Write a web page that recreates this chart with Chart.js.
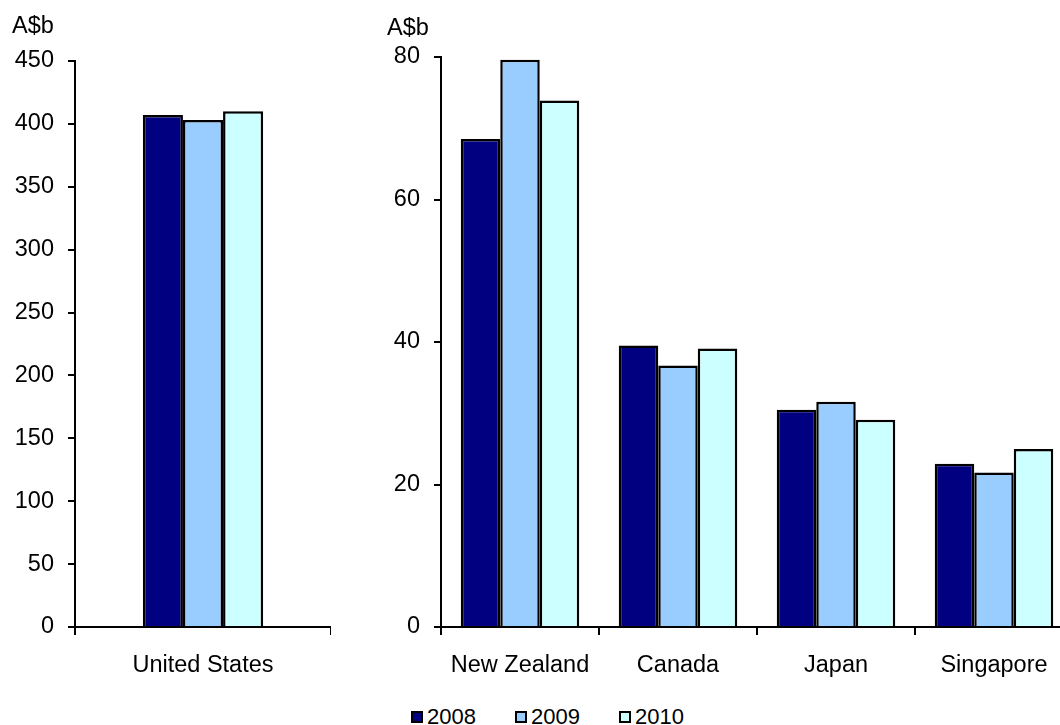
<!DOCTYPE html>
<html>
<head>
<meta charset="utf-8">
<script src="https://cdn.jsdelivr.net/npm/chart.js@4.4.1/dist/chart.umd.min.js"></script>
<style>
  html, body { margin: 0; padding: 0; background: #fff; overflow: hidden; width: 1060px; height: 725px; }
  #left { position: absolute; left: 0; top: 0; }
  #right { position: absolute; left: 380px; top: 0; }
  #legend { position: absolute; top: 704px; left: 411px; height: 26px; display: flex; font: 22px "Liberation Sans", Arial, sans-serif; line-height: 26px; color: #000; white-space: nowrap; }
  #legend span.item { display: flex; align-items: center; width: 104px; }
  #legend i { display: block; box-sizing: border-box; width: 12px; height: 12px; border: 2px solid #000; margin-right: 4px; margin-top: -1px; }
</style>
</head>
<body>
<canvas id="left" width="331" height="690"></canvas>
<canvas id="right" width="693" height="690"></canvas>
<div id="legend"></div>
<script>
// Data
const years = ['2008', '2009', '2010'];
const colors = ['#000080', '#99ccff', '#ccffff'];

const usLabels = ['United States'];
const us2008 = [407];
const us2009 = [403];
const us2010 = [410];

const otherLabels = ['New Zealand', 'Canada', 'Japan', 'Singapore'];
const other2008 = [68.5, 39.5, 30.5, 22.9];
const other2009 = [79.6, 36.7, 31.6, 21.7];
const other2010 = [73.9, 39.1, 29.1, 25.0];

const FONT = { family: '"Liberation Sans", Arial, sans-serif', size: 23.5 };

// unit label above the y axis
const unitLabel = {
    id: 'unitLabel',
    afterDraw(chart, args, opts) {
        const ctx = chart.ctx;
        ctx.save();
        ctx.font = '23.5px "Liberation Sans", Arial, sans-serif';
        ctx.fillStyle = '#000';
        ctx.textBaseline = 'middle';
        ctx.fillText(opts.text, opts.x, opts.y);
        ctx.restore();
    }
};

function makeDatasets(a, b, c) {
    return [a, b, c].map((d, i) => ({
        label: years[i],
        data: d,
        backgroundColor: colors[i],
        borderColor: '#000',
        borderWidth: 2.5,
        borderSkipped: 'bottom'
    }));
}

function makeChart(id, labels, datasets, yMax, yStep, yWidth, top, catPct, unit) {
    return new Chart(document.getElementById(id), {
        type: 'bar',
        data: { labels: labels, datasets: datasets },
        options: {
            responsive: false,
            animation: false,
            layout: { padding: { top: top, right: 0, left: 0, bottom: 0 } },
            datasets: { bar: { categoryPercentage: catPct, barPercentage: 1 } },
            plugins: {
                legend: { display: false },
                tooltip: { enabled: false },
                unitLabel: unit
            },
            scales: {
                x: {
                    afterFit: s => { s.height = 63; },
                    border: { color: '#000', width: 2 },
                    grid: { offset: true, drawOnChartArea: false, color: '#000', lineWidth: 2, tickLength: 8 },
                    ticks: { color: '#000', font: FONT, padding: 16 }
                },
                y: {
                    min: 0,
                    max: yMax,
                    afterFit: s => { s.width = yWidth; },
                    border: { color: '#000', width: 2 },
                    grid: { drawOnChartArea: false, color: '#000', lineWidth: 2, tickLength: 7 },
                    ticks: { stepSize: yStep, color: '#000', font: FONT, padding: 14 }
                }
            }
        },
        plugins: [unitLabel]
    });
}

makeChart('left', usLabels, makeDatasets(us2008, us2009, us2010), 450, 50, 75, 61, 0.47,
    { text: 'A$b', x: 12, y: 27 });
makeChart('right', otherLabels, makeDatasets(other2008, other2009, other2010), 80, 20, 61, 57, 0.75,
    { text: 'A$b', x: 7, y: 29 });

// legend
document.getElementById('legend').innerHTML = years.map((y, i) =>
    '<span class="item"><i style="background:' + colors[i] + '"></i>' + y + '</span>').join('');
</script>
</body>
</html>
